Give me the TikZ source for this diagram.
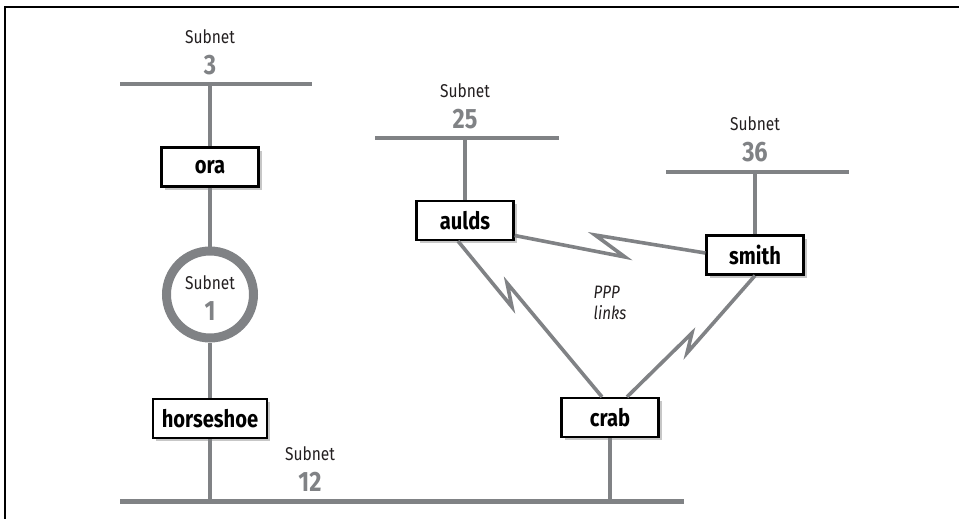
\documentclass[tikz,border=0pt]{standalone}
\usepackage{fontspec}
\setmainfont[FakeStretch=0.84]{Fira Sans}
\usetikzlibrary{positioning,shadows}

\definecolor{netgray}{RGB}{128,130,133}
\definecolor{inkgray}{RGB}{35,31,32}
\newcommand{\subnum}[1]{{\fontsize{28}{32}\selectfont\bfseries\color{netgray}#1}}

\begin{document}
\begin{tikzpicture}[x=1pt,y=-1pt,
    host/.style={draw=black,
        line width=2.2pt,
        fill=white,
        minimum width=97pt,
        minimum height=39pt,
        inner xsep=9pt,
        font=\fontsize{24}{28}\selectfont\bfseries,
        drop shadow={shadow xshift=3pt,shadow yshift=-3pt,opacity=1,fill=black!22}},
    bus/.style={netgray,line width=4.5pt},
    wire/.style={netgray,line width=4pt},
    link/.style={netgray,line width=3.6pt},
    ring/.style={circle,draw=netgray,line width=9pt,minimum size=87pt,inner sep=0pt,fill=white},
    sublbl/.style={align=center,inner sep=0pt,text=inkgray,font=\fontsize{18.5}{22}\selectfont}]

\useasboundingbox (0,0) rectangle (959,519);

% Frame
\draw[line width=1.4pt] (5,519) -- (5,7) -- (959,7);

% Subnet buses
\coordinate (b3w) at (120,84);
\coordinate (b3e) at (312,84);
\coordinate (b25w) at (375,138);
\coordinate (b25e) at (559,138);
\coordinate (b36w) at (666,172);
\coordinate (b36e) at (849,172);
\coordinate (b12w) at (120,501.5);
\coordinate (b12e) at (684,501.5);

% Hosts
\node[host] (ora) at (210,167) {ora};
\node[ring] (s1) at (210,294.5) {};
\node[host] (horseshoe) at (210,418.5) {horseshoe};
\node[host] (aulds) at (465,220.5) {aulds};
\node[host] (smith) at (755,255) {smith};
\node[host] (crab) at (610,417.5) {crab};

% Subnet labels
\coordinate (b3c) at (ora |- b3w);
\coordinate (b25c) at (aulds |- b25w);
\coordinate (b36c) at (smith |- b36w);
\coordinate (b12c) at (310,501.5);

\node[sublbl, above=9pt of b3c] (l3) {Subnet\\[9pt]\subnum{3}};
\node[sublbl, above=9pt of b25c] (l25) {Subnet\\[9pt]\subnum{25}};
\node[sublbl, above=9.5pt of b36c] (l36) {Subnet\\[9pt]\subnum{36}};
\node[sublbl, above=10pt of b12c] (l12) {Subnet\\[9pt]\subnum{12}};
\node[sublbl, yshift=-4pt] (l1) at (s1) {Subnet\\[9pt]\subnum{1}};

\node[sublbl, align=left, font=\fontsize{18}{21}\selectfont\itshape] (ppp) at (610,302.5) {PPP\\links};

% Ethernet segments
\draw[bus] (b3w) -- (b3e);
\draw[bus] (b25w) -- (b25e);
\draw[bus] (b36w) -- (b36e);
\draw[bus] (b12w) -- (b12e);

\draw[wire] (ora) -- (b3c);
\draw[wire] (ora) -- (s1);
\draw[wire] (s1) -- (horseshoe);
\draw[wire] (horseshoe) -- (horseshoe |- b12w);
\draw[wire] (aulds) -- (b25c);
\draw[wire] (smith) -- (b36c);
\draw[wire] (crab) -- (crab |- b12w);

% PPP links
\draw[link] ([yshift=-15pt]aulds.east) -- (625,257) -- (595,235) -- ([yshift=2pt]smith.west);
\draw[link] ([xshift=-7pt]aulds.south) -- (512,307) -- (507,283) -- ([xshift=-8pt]crab.north);
\draw[link] (smith.south) -- (687,353) -- (692,333) -- ([xshift=17pt]crab.north);

\end{tikzpicture}
\end{document}
